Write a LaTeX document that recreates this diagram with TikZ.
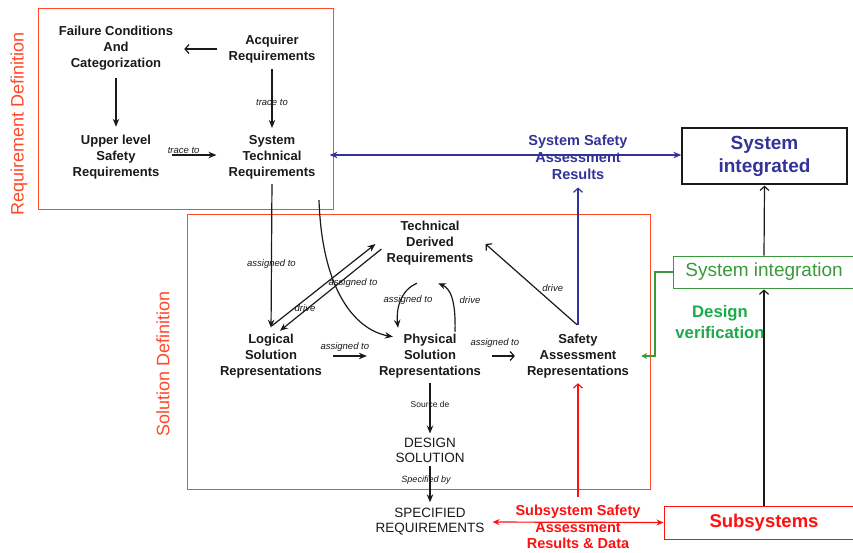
\documentclass[tikz,border=0pt]{standalone}
\usepackage{fontspec}
\setmainfont{Liberation Sans}
\usetikzlibrary{arrows.meta,calc}
\definecolor{boxred}{HTML}{FF4A2A}
\definecolor{pured}{HTML}{FF1010}
\definecolor{navy}{HTML}{333399}
\definecolor{gbox}{HTML}{3A9A3A}
\definecolor{gtext}{HTML}{1DAA4A}
\definecolor{ink}{HTML}{1A1A1A}
\tikzset{
  lbl/.style={font=\fontsize{13}{16}\selectfont\bfseries, text=ink, align=center, inner sep=0pt},
  capslbl/.style={font=\fontsize{13.5}{15}\selectfont, text=ink, align=center, inner sep=0pt},
  tag/.style={font=\fontsize{9.5}{11}\selectfont\itshape, text=ink, inner sep=0pt},
  farr/.style={draw=ink, line width=1.2pt, -{Stealth[length=8pt,width=6.5pt]}},
  oarr/.style={draw=ink, line width=1.2pt, -{Straight Barb[length=4pt,width=9pt]}},
  regionbox/.style={draw=boxred, line width=1pt},
  regionlbl/.style={rotate=90, text=boxred, inner sep=0pt},
}
\begin{document}
\begin{tikzpicture}[x=1pt,y=-1pt]
\useasboundingbox (0,0) rectangle (853,552);
\fill[white] (0,0) rectangle (853,552);

% region frames
\draw[regionbox] (38,8) rectangle (333,209);
\draw[regionbox] (187,214) rectangle (650,489);
\node[regionlbl, font=\fontsize{18}{20}\selectfont] (rdl) at (19,124) {Requirement Definition};
\node[regionlbl, font=\fontsize{18}{20}\selectfont] (sdl) at (163,364) {Solution Definition};

% nodes
\node[lbl] (fc) at (116,48) {Failure Conditions\\And\\Categorization};
\node[lbl] (acq) at (272,49) {Acquirer\\Requirements};
\node[lbl] (ul) at (116,157) {Upper level\\Safety\\Requirements};
\node[lbl] (st) at (272,157) {System\\Technical\\Requirements};
\node[lbl] (td) at (430,243) {Technical\\Derived\\Requirements};
\node[lbl] (lg) at (271,356) {Logical\\Solution\\Representations};
\node[lbl] (ph) at (430,356) {Physical\\Solution\\Representations};
\node[lbl] (sa) at (578,356) {Safety\\Assessment\\Representations};
\node[capslbl] (ds) at (430,450) {DESIGN\\SOLUTION};
\node[capslbl] (sr) at (430,522) {SPECIFIED\\REQUIREMENTS};

\node[draw=ink, line width=1.3pt, minimum width=165pt, minimum height=56pt, inner sep=0pt,
      text=navy, font=\fontsize{19}{23}\selectfont\bfseries, align=center] (sint) at (764.5,156) {System\\integrated};
\node[draw=gbox, line width=1pt, minimum width=182pt, minimum height=32pt, inner sep=0pt,
      text=gbox, font=\fontsize{19}{22}\selectfont] (sinteg) at (764,272) {System integration};
\node[draw=pured, line width=1pt, minimum width=200pt, minimum height=33pt, inner sep=0pt,
      text=pured, font=\fontsize{18.5}{22}\selectfont\bfseries] (subsys) at (764,522.5) {Subsystems};

\node[text=navy, font=\fontsize{14.5}{17}\selectfont\bfseries, align=center, inner sep=0pt] (ssar) at (578,157) {System Safety\\Assessment\\Results};
\node[text=pured, font=\fontsize{14.5}{16.5}\selectfont\bfseries, align=center, inner sep=0pt] (ssadr) at (578,527) {Subsystem Safety\\Assessment\\Results \& Data};
\node[text=gtext, font=\fontsize{16.7}{21}\selectfont\bfseries, align=center, inner sep=0pt] (dv) at (720,322) {Design\\verification};

% requirement definition connectors
\draw[oarr, shorten <=11pt, shorten >=11pt] (acq.west) -- (acq.west -| fc.east);
\draw[farr, shorten <=8pt, shorten >=8pt] (fc.south) -- (ul.north);
\draw[farr, shorten <=6pt, shorten >=7pt] (acq.south) -- node[tag, pos=0.55] {trace to} (st.north);
\draw[farr, shorten <=12pt, shorten >=12pt] ($(ul.east)+(0,-2)$) -- node[tag, pos=0.35, above=0.5pt] {trace to} ($(st.west)+(0,-2)$);

% blue system safety assessment
\draw[navy, line width=1.2pt, {Stealth[length=8pt,width=6.5pt]}-{Stealth[length=8pt,width=6.5pt]}, shorten <=14pt]
  ($(st.east)+(0,-2)$) -- ($(sint.west)+(0,-1)$);
\draw[navy, line width=1.2pt, -{Straight Barb[length=4pt,width=9pt]}, shorten <=9pt, shorten >=8pt] (sa.north) -- (ssar.south);

% solution definition connectors
\draw[farr, shorten <=5pt, shorten >=6pt] (st.south) -- node[tag, pos=0.55] {assigned to} (lg.north);
\coordinate (stc) at ($(st.south)+(47,21)$);
\coordinate (phc) at ($(ph.north west)+(14,3)$);
\draw[farr] (stc) .. controls ($(stc)+(3,90)$) and ($(phc)+(-38,-7)$) .. (phc);

\draw[farr] ($(lg.north)+(1,-8)$) -- ($(td.west)+(-11,1)$);
\draw[farr] ($(td.west)+(-5,6)$) -- ($(lg.north)+(9,-3)$);
\node[tag] (lbla) at (353,283) {assigned to};
\node[tag] (lbld) at (305,308) {drive};

\draw[farr] ($(td.south)+(-13,18)$) .. controls ($(td.south)+(-30,25)$) and ($(ph.north)+(-34,-24)$) .. ($(ph.north)+(-32,-6)$);
\node[tag] (lblc) at (408,300) {assigned to};
\draw[farr] ($(ph.north)+(25,-2)$) .. controls ($(ph.north)+(26,-34)$) and ($(td.south)+(20,23)$) .. ($(td.south)+(8,18)$);
\node[tag] (lbldr) at (470,300) {drive};

\draw[farr, shorten <=11pt, shorten >=12pt] (lg.east) -- node[tag, above=4pt, pos=0.4] {assigned to} (ph.west);
\draw[oarr, shorten <=11pt, shorten >=12pt] (ph.east) -- node[tag, above=8pt, pos=0.3] {assigned to} (sa.west);

\draw[oarr] ($(sa.north)+(-1,-9)$) -- node[tag, pos=0.45, right=6pt] {drive} ($(td.east)+(12,1)$);

\draw[farr, shorten <=5pt, shorten >=4pt] (ph.south) -- node[font=\fontsize{8.5}{10}\selectfont, text=ink, inner sep=0pt, pos=0.45] {Source de} (ds.north);
\draw[farr, shorten <=4pt, shorten >=6pt] (ds.south) -- node[tag, font=\fontsize{9}{10}\selectfont\itshape, pos=0.38, xshift=-4pt] {Specified by} (sr.north);

% right side
\draw[oarr, shorten >=1pt] (sinteg.north) -- (sint.south);
\draw[oarr, shorten >=1pt] (subsys.north) -- (sinteg.south);
\coordinate (gcorner) at (655,356);
\draw[gbox, line width=1.2pt, -{Stealth[length=6pt,width=6pt]}, shorten >=12pt] (sinteg.west) -| (gcorner) -- (sa.east);

% red subsystem data
\draw[pured, line width=1.2pt, {Stealth[length=7pt,width=6pt]}-{Stealth[length=7pt,width=6pt]}, shorten <=8pt]
  (sr.east) -- (subsys.west);
\draw[pured, line width=1.2pt, -{Straight Barb[length=4pt,width=9pt]}, shorten >=5pt] ($(ssadr.north)+(0,-8)$) -- (sa.south);
\end{tikzpicture}
\end{document}
